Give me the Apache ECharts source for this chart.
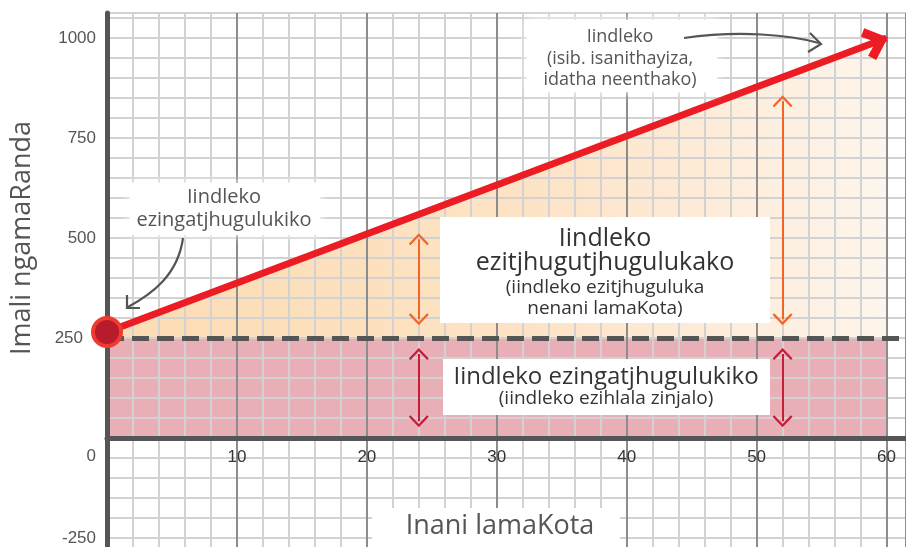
<!DOCTYPE html>
<html><head><meta charset="utf-8">
<script src="https://cdn.jsdelivr.net/npm/echarts@6/dist/echarts.min.js"></script>
<style>html,body{margin:0;padding:0;background:#fff}#c{width:906px;height:547px}</style>
</head><body><div id="c"></div>
<script>
// ---- data ----
const quantity = [0, 60];
const totalCost = [265, 1000];
const fixedCost = [250, 250];
const yTickLabels = [-250, 0, 250, 500, 750, 1000];
const xTickLabels = [10, 20, 30, 40, 50, 60];
const arrowX = [24, 52];
const variableArrowTop = [497, 842];
const variableArrowBottom = [297, 297];
const fixedArrowTop = [210, 210];
const fixedArrowBottom = [42, 42];
const yAxisTitle = 'Imali ngamaRanda';
const xAxisTitle = 'Inani lamaKota';
const noteFixedTop = ['Iindleko', 'ezingatjhugulukiko'];
const noteTotal = ['Iindleko', '(isib. isanithayiza,', 'idatha neenthako)'];
const noteVariable = ['Iindleko', 'ezitjhugutjhugulukako', '(iindleko ezitjhuguluka', 'nenani lamaKota)'];
const noteFixed = ['Iindleko ezingatjhugulukiko', '(iindleko ezihlala zinjalo)'];

const FONT = '"Open Sans", "Noto Sans", sans-serif';
const chart = echarts.init(document.getElementById('c'), null, {renderer: 'canvas'});

const thinChevron = 'path://M0 11 L10 0 L20 11 L18.3 12.6 L10 3.4 L1.7 12.6 Z';
const bigChevron = 'path://M20 0 L40 22 L32 29 L20 15 L8 29 L0 22 Z';

function pairs(xs, ys) { return xs.map((x, i) => [x, ys[i]]); }

const arrowLines = [];
arrowX.forEach((x, i) => {
  arrowLines.push([{coord: [x, variableArrowTop[i]], lineStyle: {color: '#f0652a'}}, {coord: [x, variableArrowBottom[i]]}]);
  arrowLines.push([{coord: [x, fixedArrowTop[i]], lineStyle: {color: '#c41e3a'}}, {coord: [x, fixedArrowBottom[i]]}]);
});

const option = {
  animation: false,
  backgroundColor: '#ffffff',
  grid: {left: 107, right: 0, top: 13, bottom: -11, containLabel: false, outerBoundsMode: 'none'},
  xAxis: {
    type: 'value', min: 0, max: 61.5, interval: 10, z: 3,
    axisLine: {show: true, onZero: true, lineStyle: {color: '#555', width: 5}},
    axisTick: {show: false},
    minorTick: {show: false, splitNumber: 5},
    splitLine: {show: true, lineStyle: {color: '#8c8c8c', width: 2}},
    minorSplitLine: {show: true, lineStyle: {color: '#d2d2d2', width: 2}},
    axisLabel: {
      margin: 11, color: '#333', fontSize: 17, fontFamily: 'Liberation Sans, Arial',
      formatter: v => xTickLabels.includes(v) ? String(v) : ''
    }
  },
  yAxis: {
    type: 'value', min: -300, max: 1062.5, interval: 50, z: 3,
    axisLine: {show: true, onZero: true, lineStyle: {color: '#555', width: 5}},
    axisTick: {show: false},
    splitLine: {show: true, lineStyle: {color: '#d2d2d2', width: 2}},
    axisLabel: {
      margin: 11, color: '#555', fontSize: 17, fontFamily: 'Liberation Sans, Arial',
      formatter: v => {
        if (!yTickLabels.includes(v)) return '';
        if (v === 0) return '{zero|0}';
        if (v === 250) return '{shift|250}';
        return String(v);
      },
      rich: {
        zero: {padding: [36, 0, 0, 0], fontSize: 17, color: '#555', fontFamily: 'Liberation Sans, Arial'},
        shift: {padding: [0, 13, 0, 0], fontSize: 17, color: '#555', fontFamily: 'Liberation Sans, Arial'}
      }
    }
  },
  series: [
    {
      name: 'fixed', type: 'line', z: 1, symbol: 'none', silent: true,
      data: pairs(quantity, fixedCost),
      lineStyle: {width: 0},
      areaStyle: {origin: 'auto', color: '#e8b0b6', opacity: 1},
      markLine: {
        silent: true, symbol: ['none', 'none'], label: {show: false},
        lineStyle: {color: '#555', width: 5, type: [17, 8]},
        data: [{yAxis: fixedCost[0]}]
      }
    },
    {
      name: 'variable', type: 'line', z: 1, symbol: 'none', silent: true,
      data: pairs(quantity, totalCost),
      lineStyle: {width: 0},
      areaStyle: {
        origin: fixedCost[0], opacity: 1,
        color: new echarts.graphic.LinearGradient(0, 0, 1, 0, [
          {offset: 0, color: '#fcdcb3'},
          {offset: 0.55, color: '#fde3c6'},
          {offset: 1, color: '#fdf5ec'}
        ])
      }
    },
    {
      name: 'arrows', type: 'line', z: 5, data: [], silent: true,
      markLine: {
        silent: true, symbol: [thinChevron, thinChevron], symbolSize: [20, 12],
        label: {show: false}, lineStyle: {width: 2, type: 'solid'},
        data: arrowLines
      }
    },
    {
      name: 'total', type: 'line', z: 6, silent: true, showSymbol: true,
      lineStyle: {color: '#ec1c24', width: 7},
      itemStyle: {color: '#ec1c24'},
      data: [
        {value: [quantity[0], totalCost[0]], symbol: 'circle', symbolSize: 28,
         itemStyle: {color: '#b81c2c', borderColor: '#ee3a30', borderWidth: 4}},
        {value: [quantity[1], totalCost[1]], symbol: 'none'}
      ]
    }
  ]
};
chart.setOption(option);

// arrowhead orientation from the library's own scales
const p0 = chart.convertToPixel({gridIndex: 0}, [quantity[0], totalCost[0]]);
const p1 = chart.convertToPixel({gridIndex: 0}, [quantity[1], totalCost[1]]);
const ang = Math.atan2(p0[1] - p1[1], p1[0] - p0[0]);
const back = 11;
option.series[3].data[1] = {
  value: [quantity[1], totalCost[1]], symbol: bigChevron, symbolSize: [34, 25],
  symbolRotate: ang * 180 / Math.PI - 90,
  symbolOffset: [-back * Math.cos(ang), back * Math.sin(ang)],
  itemStyle: {color: '#ec1c24', borderWidth: 0}
};

// place x tick labels just under the zero line (labels sit at the grid bottom otherwise)
const yZero = chart.convertToPixel({yAxisIndex: 0}, 0);
const yBottom = chart.convertToPixel({yAxisIndex: 0}, -300);
option.xAxis.axisLabel.margin = (yZero - yBottom) + 11;

function txt(t, x, y, size, color, extra) {
  return Object.assign({type: 'text', z: 101, silent: true,
    style: {text: t, x: x, y: y, align: 'center', verticalAlign: 'middle',
            font: '400 ' + size + 'px ' + FONT, fill: color}}, extra || {});
}
function box(x, y, w, h, soft) {
  return {type: 'rect', z: 100, silent: true, shape: {x, y, width: w, height: h},
    style: {fill: '#fff', shadowBlur: soft ? 10 : 0, shadowColor: '#fff'}};
}
const gray = '#555';
option.graphic = [
  box(130, 183, 190, 52, true),
  txt(noteFixedTop[0], 224, 197, 20, gray),
  txt(noteFixedTop[1], 224, 220, 20, gray),
  {type: 'bezierCurve', z: 101, silent: true,
   shape: {x1: 183, y1: 238, cpx1: 178, cpy1: 275, cpx2: 152, cpy2: 294, x2: 128, y2: 307},
   style: {stroke: gray, lineWidth: 2.2, fill: null}},
  {type: 'polyline', z: 101, silent: true, shape: {points: [[127, 295], [127, 308], [140, 308]]},
   style: {stroke: gray, lineWidth: 2.2, fill: null}},

  box(527, 20, 190, 72, true),
  txt(noteTotal[0], 620, 37, 18, gray),
  txt(noteTotal[1], 620, 59, 18, gray),
  txt(noteTotal[2], 620, 80, 18, gray),
  {type: 'bezierCurve', z: 101, silent: true,
   shape: {x1: 684, y1: 38, cpx1: 740, cpy1: 30, cpx2: 790, cpy2: 35, x2: 819, y2: 43},
   style: {stroke: gray, lineWidth: 2.2, fill: null}},
  {type: 'polyline', z: 101, silent: true, shape: {points: [[810, 33], [821, 44], [808, 52]]},
   style: {stroke: gray, lineWidth: 2.2, fill: null}},

  box(440, 217, 330, 106, false),
  txt(noteVariable[0], 605, 239, 25, '#333'),
  txt(noteVariable[1], 605, 263, 25, '#333'),
  txt(noteVariable[2], 605, 288, 19, '#333'),
  txt(noteVariable[3], 605, 309, 19, '#333'),

  box(443, 359, 327, 56, false),
  txt(noteFixed[0], 606, 377, 24, '#333'),
  txt(noteFixed[1], 606, 399, 19, '#333'),

  box(372, 508, 248, 40, false),
  txt(xAxisTitle, 500, 526, 27, gray),
  {type: 'text', z: 101, silent: true, x: 22, y: 238, rotation: Math.PI / 2,
   style: {text: yAxisTitle, x: 0, y: 0, align: 'center', verticalAlign: 'middle',
           font: '400 27px ' + FONT, fill: gray}}
];
chart.setOption(option);
</script></body></html>
